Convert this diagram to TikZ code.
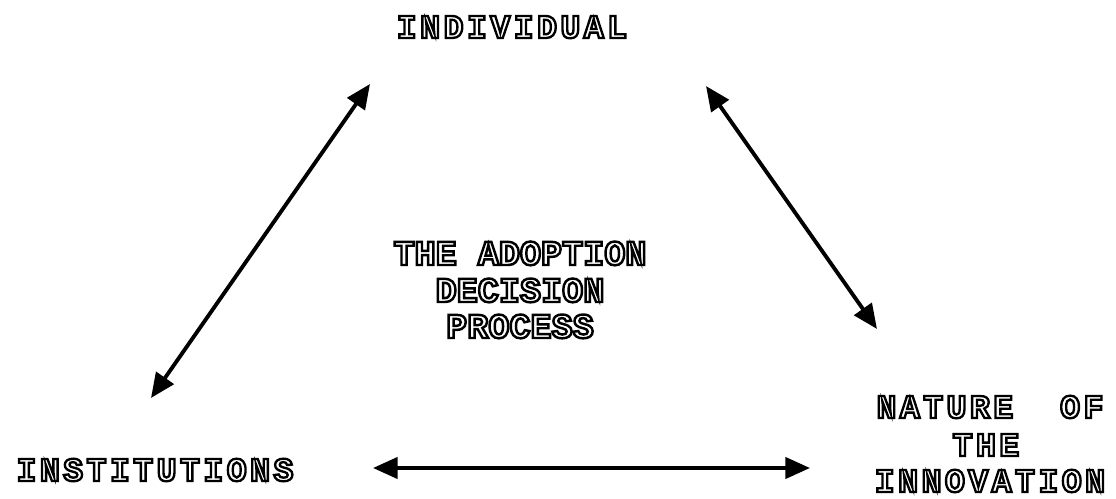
\documentclass[tikz,border=0pt]{standalone}
\usepackage{fontspec}
\usetikzlibrary{arrows.meta}
\newfontfamily\typer[LetterSpace=10,FakeBold=7]{Liberation Mono}
\newfontfamily\typerc[FakeBold=7]{Liberation Mono}
% white letters, black stroke round them
\newcommand{\hollow}[1]{{\color{white}\special{pdf:literal direct 0 G}#1}}

\begin{document}
\begin{tikzpicture}[x=0.02cm,y=-0.02cm,<->,>={Triangle[length=14pt,width=12pt]}]
    \tikzstyle{every node}=[inner sep=0pt,anchor=base,font=\typer\bfseries\fontsize{19}{22}\selectfont];
    \tikzstyle{every path}=[line width=2.2pt];
    \tikzstyle{centre}=[font=\typerc\bfseries\fontsize{20}{21}\selectfont];
    \useasboundingbox (0,0) rectangle (1116,499);

    \node at (512,38)  (ind)   {\hollow{INDIVIDUAL}};
    \node at (155,481) (inst)  {\hollow{INSTITUTIONS}};
    \node at (990,418) (nat)   {\hollow{NATURE\ \ OF}};
    \node at (986,456) (nthe)  {\hollow{THE}};
    \node at (990,492) (innov) {\hollow{INNOVATION}};
    \node[centre] at (520,265) (adop) {\hollow{THE ADOPTION}};
    \node[centre] at (520,302) (dec)  {\hollow{DECISION}};
    \node[centre] at (520,338) (proc) {\hollow{PROCESS}};

    \coordinate (ind-w)   at (370,84);
    \coordinate (ind-e)   at (706,86);
    \coordinate (inst-n)  at (151,398);
    \coordinate (inst-e)  at (373,468);
    \coordinate (nat-n)   at (877,329);
    \coordinate (innov-w) at (810,468);

    \draw (inst-n) to (ind-w);
    \draw (ind-e) to (nat-n);
    \draw (inst-e) to (innov-w);
\end{tikzpicture}
\end{document}
